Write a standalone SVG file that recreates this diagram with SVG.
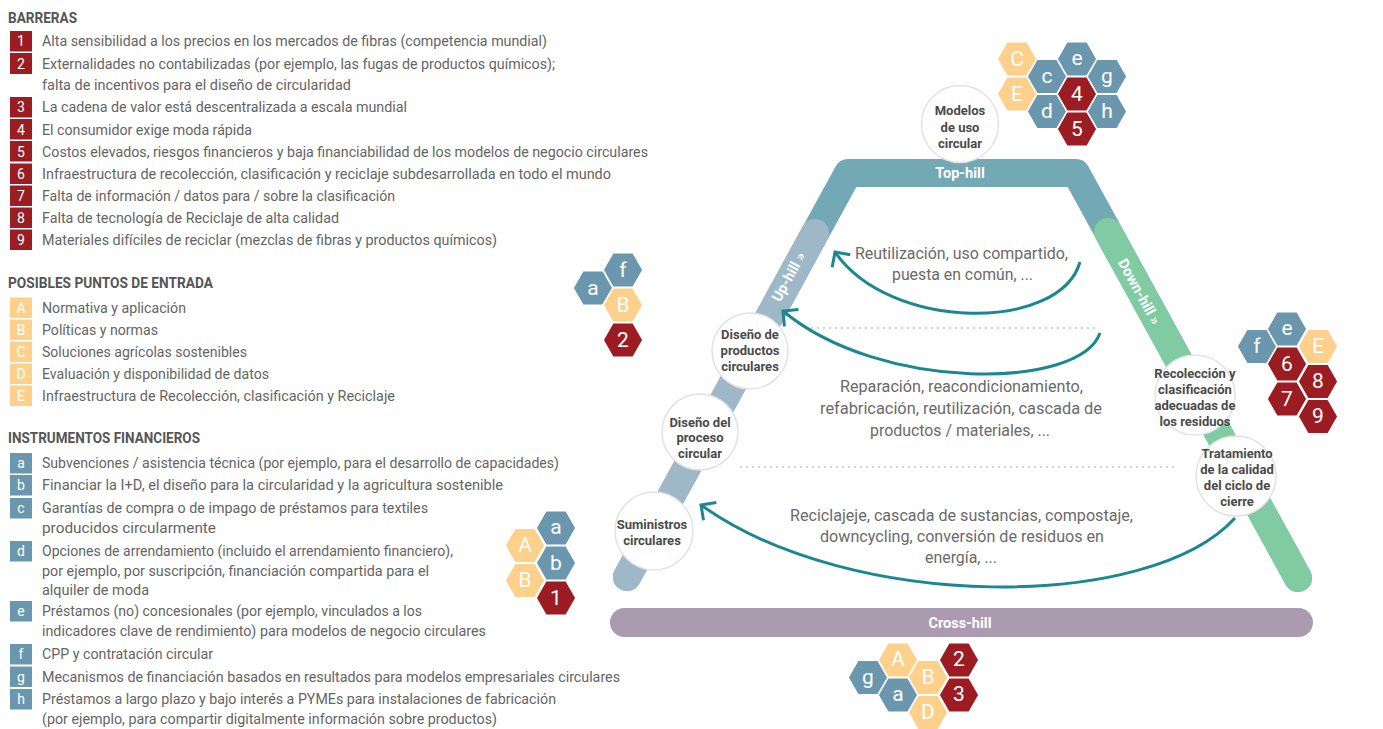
<svg xmlns="http://www.w3.org/2000/svg" xmlns:xlink="http://www.w3.org/1999/xlink" width="1383" height="729" viewBox="0 0 1383 729">
<style>
text{font-family:Roboto,"Liberation Sans",sans-serif}
.h{font-size:14px;font-weight:bold;fill:#555}
.t{font-size:14px;fill:#646464;dominant-baseline:central}
.bx{font-size:14px;fill:#fff;text-anchor:middle;dominant-baseline:central}
.r{fill:#9b1c22}.y{fill:#fdd08b}.b{fill:#6a97ae}
.hx{stroke:#fff;stroke-width:1.5}
.hl{font-size:21px;fill:#fff;text-anchor:middle;dominant-baseline:central}
.nd{fill:#fff;stroke:#e2e2e2;stroke-width:1.5}
.nt{font-size:13px;font-weight:bold;fill:#4a4a4a;text-anchor:middle;dominant-baseline:central}
.bl{font-size:14.5px;font-weight:bold;fill:#fff;text-anchor:middle;dominant-baseline:central}
.in{font-size:16px;fill:#6a6a6a;dominant-baseline:central}
.arr{fill:none;stroke:#1b8891;stroke-width:3}
.dot{stroke:#999;stroke-width:1.6;stroke-dasharray:0 6;stroke-linecap:round}
</style>
<defs>
<path id="hx" d="M-20,0 L-10,-17.32 L10,-17.32 L20,0 L10,17.32 L-10,17.32Z"/>
<marker id="ah" viewBox="0 0 16 24" refX="13" refY="12" markerWidth="16" markerHeight="24" markerUnits="userSpaceOnUse" orient="auto">
<path d="M2,1 L13,12 L2,23" fill="none" stroke="#1b8891" stroke-width="3" stroke-linejoin="miter"/>
</marker>
</defs>
<rect width="1383" height="729" fill="#fff"/>

<g id="legend-barreras">
<text class="h" x="8" y="23" textLength="69" lengthAdjust="spacingAndGlyphs">BARRERAS</text>
<rect class="r" x="10" y="31" width="22" height="20.5"/><text class="bx" x="21" y="41">1</text>
<text class="t" x="42" y="41" textLength="505" lengthAdjust="spacingAndGlyphs">Alta sensibilidad a los precios en los mercados de fibras (competencia mundial)</text>
<rect class="r" x="10" y="53" width="22" height="21"/><text class="bx" x="21" y="63.5">2</text>
<text class="t" x="42" y="64" textLength="513" lengthAdjust="spacingAndGlyphs">Externalidades no contabilizadas (por ejemplo, las fugas de productos químicos);</text>
<text class="t" x="42" y="85" textLength="309" lengthAdjust="spacingAndGlyphs">falta de incentivos para el diseño de circularidad</text>
<rect class="r" x="10" y="97" width="22" height="20.5"/><text class="bx" x="21" y="107">3</text>
<text class="t" x="42" y="107" textLength="365" lengthAdjust="spacingAndGlyphs">La cadena de valor está descentralizada a escala mundial</text>
<rect class="r" x="10" y="119" width="22" height="20.5"/><text class="bx" x="21" y="129.5">4</text>
<text class="t" x="42" y="130" textLength="210" lengthAdjust="spacingAndGlyphs">El consumidor exige moda rápida</text>
<rect class="r" x="10" y="141" width="22" height="20.5"/><text class="bx" x="21" y="151.5">5</text>
<text class="t" x="42" y="152" textLength="606" lengthAdjust="spacingAndGlyphs">Costos elevados, riesgos financieros y baja financiabilidad de los modelos de negocio circulares</text>
<rect class="r" x="10" y="163.5" width="22" height="20.5"/><text class="bx" x="21" y="174">6</text>
<text class="t" x="42" y="174" textLength="569" lengthAdjust="spacingAndGlyphs">Infraestructura de recolección, clasificación y reciclaje subdesarrollada en todo el mundo</text>
<rect class="r" x="10" y="185.5" width="22" height="20.5"/><text class="bx" x="21" y="196">7</text>
<text class="t" x="42" y="196" textLength="353" lengthAdjust="spacingAndGlyphs">Falta de información / datos para / sobre la clasificación</text>
<rect class="r" x="10" y="207.5" width="22" height="20.5"/><text class="bx" x="21" y="218">8</text>
<text class="t" x="42" y="218" textLength="297" lengthAdjust="spacingAndGlyphs">Falta de tecnología de Reciclaje de alta calidad</text>
<rect class="r" x="10" y="229.5" width="22" height="20.5"/><text class="bx" x="21" y="240">9</text>
<text class="t" x="42" y="240" textLength="455" lengthAdjust="spacingAndGlyphs">Materiales difíciles de reciclar (mezclas de fibras y productos químicos)</text>
</g>

<g id="legend-entrada">
<text class="h" x="8" y="288" textLength="205" lengthAdjust="spacingAndGlyphs">POSIBLES PUNTOS DE ENTRADA</text>
<rect class="y" x="10" y="297.5" width="22" height="20.5"/><text class="bx" x="21" y="308">A</text>
<text class="t" x="42" y="308" textLength="144" lengthAdjust="spacingAndGlyphs">Normativa y aplicación</text>
<rect class="y" x="10" y="319.5" width="22" height="20.5"/><text class="bx" x="21" y="330">B</text>
<text class="t" x="42" y="330" textLength="116" lengthAdjust="spacingAndGlyphs">Políticas y normas</text>
<rect class="y" x="10" y="341.5" width="22" height="20.5"/><text class="bx" x="21" y="352">C</text>
<text class="t" x="42" y="352" textLength="205" lengthAdjust="spacingAndGlyphs">Soluciones agrícolas sostenibles</text>
<rect class="y" x="10" y="363.5" width="22" height="20.5"/><text class="bx" x="21" y="374">D</text>
<text class="t" x="42" y="374" textLength="227" lengthAdjust="spacingAndGlyphs">Evaluación y disponibilidad de datos</text>
<rect class="y" x="10" y="385.5" width="22" height="20.5"/><text class="bx" x="21" y="396">E</text>
<text class="t" x="42" y="396" textLength="353" lengthAdjust="spacingAndGlyphs">Infraestructura de Recolección, clasificación y Reciclaje</text>
</g>

<g id="legend-instrumentos">
<text class="h" x="8" y="443" textLength="192" lengthAdjust="spacingAndGlyphs">INSTRUMENTOS FINANCIEROS</text>
<rect class="b" x="10" y="453" width="22" height="20.5"/><text class="bx" x="21" y="462.5">a</text>
<text class="t" x="42" y="463" textLength="517" lengthAdjust="spacingAndGlyphs">Subvenciones / asistencia técnica (por ejemplo, para el desarrollo de capacidades)</text>
<rect class="b" x="10" y="475" width="22" height="20.5"/><text class="bx" x="21" y="485">b</text>
<text class="t" x="42" y="485" textLength="461" lengthAdjust="spacingAndGlyphs">Financiar la I+D, el diseño para la circularidad y la agricultura sostenible</text>
<rect class="b" x="10" y="498" width="22" height="20.5"/><text class="bx" x="21" y="507.5">c</text>
<text class="t" x="42" y="508" textLength="386" lengthAdjust="spacingAndGlyphs">Garantías de compra o de impago de préstamos para textiles</text>
<text class="t" x="42" y="528" textLength="174" lengthAdjust="spacingAndGlyphs">producidos circularmente</text>
<rect class="b" x="10" y="541" width="22" height="20.5"/><text class="bx" x="21" y="550.5">d</text>
<text class="t" x="42" y="551" textLength="411" lengthAdjust="spacingAndGlyphs">Opciones de arrendamiento (incluido el arrendamiento financiero),</text>
<text class="t" x="42" y="571" textLength="387" lengthAdjust="spacingAndGlyphs">por ejemplo, por suscripción, financiación compartida para el</text>
<text class="t" x="42" y="590" textLength="107" lengthAdjust="spacingAndGlyphs">alquiler de moda</text>
<rect class="b" x="10" y="601" width="22" height="20.5"/><text class="bx" x="21" y="610.5">e</text>
<text class="t" x="42" y="611" textLength="380" lengthAdjust="spacingAndGlyphs">Préstamos (no) concesionales (por ejemplo, vinculados a los</text>
<text class="t" x="42" y="631" textLength="444" lengthAdjust="spacingAndGlyphs">indicadores clave de rendimiento) para modelos de negocio circulares</text>
<rect class="b" x="10" y="644" width="22" height="20.5"/><text class="bx" x="21" y="654">f</text>
<text class="t" x="42" y="654" textLength="171" lengthAdjust="spacingAndGlyphs">CPP y contratación circular</text>
<rect class="b" x="10" y="666.5" width="22" height="20.5"/><text class="bx" x="21" y="676.5">g</text>
<text class="t" x="42" y="677" textLength="578" lengthAdjust="spacingAndGlyphs">Mecanismos de financiación basados en resultados para modelos empresariales circulares</text>
<rect class="b" x="10" y="689" width="22" height="20.5"/><text class="bx" x="21" y="699">h</text>
<text class="t" x="42" y="699" textLength="514" lengthAdjust="spacingAndGlyphs">Préstamos a largo plazo y bajo interés a PYMEs para instalaciones de fabricación</text>
<text class="t" x="42" y="719" textLength="455" lengthAdjust="spacingAndGlyphs">(por ejemplo, para compartir digitalmente información sobre productos)</text>
</g>

<g id="bands">
<path d="M627,577 L848,173 L1076,173 L1298,578" fill="none" stroke="#72a9b5" stroke-width="28" stroke-linejoin="round" stroke-linecap="round"/>
<path d="M815,233 L627,577" fill="none" stroke="#9fb8c8" stroke-width="28" stroke-linecap="round"/>
<path d="M1108,232 L1298,578" fill="none" stroke="#80cba2" stroke-width="28" stroke-linecap="round"/>
<rect x="610" y="608" width="703" height="29" rx="14.5" fill="#ab9bb0"/>
<text class="bl" x="960" y="173">Top-hill</text>
<text class="bl" x="960" y="623">Cross-hill</text>
<text class="bl" transform="translate(789,277) rotate(-61.3)">Up-hill »</text>
<text class="bl" transform="translate(1139,292) rotate(61.2)">Down-hill »</text>
</g>

<g id="connectors">
<line class="dot" x1="812" y1="328" x2="1097" y2="328"/>
<line class="dot" x1="741" y1="467" x2="1175" y2="467"/>
<path class="arr" d="M1080,262 C1060,332 890,332 835,252" marker-end="url(#ah)"/>
<path class="arr" d="M1100,333 C1080,390 880,392 783,311" marker-end="url(#ah)"/>
<path class="arr" d="M1235,518 C1150,612 850,612 701,505" marker-end="url(#ah)"/>
</g>

<g id="flow-labels">
<text class="in" x="855" y="253" textLength="213" lengthAdjust="spacingAndGlyphs">Reutilización, uso compartido,</text>
<text class="in" x="892" y="274" textLength="141" lengthAdjust="spacingAndGlyphs">puesta en común, ...</text>
<text class="in" x="840" y="386" textLength="243" lengthAdjust="spacingAndGlyphs">Reparación, reacondicionamiento,</text>
<text class="in" x="820" y="408" textLength="282" lengthAdjust="spacingAndGlyphs">refabricación, reutilización, cascada de</text>
<text class="in" x="870" y="430" textLength="180" lengthAdjust="spacingAndGlyphs">productos / materiales, ...</text>
<text class="in" x="790" y="515" textLength="343" lengthAdjust="spacingAndGlyphs">Reciclajeje, cascada de sustancias, compostaje,</text>
<text class="in" x="820" y="536" textLength="284" lengthAdjust="spacingAndGlyphs">downcycling, conversión de residuos en</text>
<text class="in" x="925" y="557" textLength="72" lengthAdjust="spacingAndGlyphs">energía, ...</text>
</g>

<g id="node-modelos"><circle class="nd" cx="960" cy="124" r="38.5"/>
<text class="nt" x="960" y="110">Modelos</text><text class="nt" x="960" y="127">de uso</text><text class="nt" x="960" y="143">circular</text></g>
<g id="node-diseno-productos"><circle class="nd" cx="750" cy="351" r="38"/>
<text class="nt" x="750" y="334">Diseño de</text><text class="nt" x="750" y="350">productos</text><text class="nt" x="750" y="366">circulares</text></g>
<g id="node-diseno-proceso"><circle class="nd" cx="700" cy="432" r="38"/>
<text class="nt" x="700" y="422">Diseño del</text><text class="nt" x="700" y="437">proceso</text><text class="nt" x="700" y="453">circular</text></g>
<g id="node-suministros"><circle class="nd" cx="654" cy="531" r="39"/>
<text class="nt" x="652" y="524">Suministros</text><text class="nt" x="652" y="540">circulares</text></g>
<g id="node-recoleccion"><circle class="nd" cx="1195" cy="395" r="40"/>
<text class="nt" x="1195" y="373">Recolección y</text><text class="nt" x="1195" y="389">clasificación</text><text class="nt" x="1195" y="405">adecuadas de</text><text class="nt" x="1195" y="421">los residuos</text></g>
<g id="node-tratamiento"><circle class="nd" cx="1236" cy="476" r="40"/>
<text class="nt" x="1237" y="453">Tratamiento</text><text class="nt" x="1237" y="469">de la calidad</text><text class="nt" x="1237" y="485">del ciclo de</text><text class="nt" x="1237" y="501">cierre</text></g>

<g id="hex-top">
<use href="#hx" class="hx y" x="1017" y="59"/><text class="hl" x="1017" y="59">C</text>
<use href="#hx" class="hx y" x="1017" y="94"/><text class="hl" x="1017" y="94">E</text>
<use href="#hx" class="hx b" x="1047" y="76.5"/><text class="hl" x="1047" y="76">c</text>
<use href="#hx" class="hx b" x="1047" y="111.5"/><text class="hl" x="1047" y="111">d</text>
<use href="#hx" class="hx b" x="1077" y="59"/><text class="hl" x="1077" y="58">e</text>
<use href="#hx" class="hx r" x="1077" y="94"/><text class="hl" x="1077" y="94">4</text>
<use href="#hx" class="hx r" x="1077" y="129"/><text class="hl" x="1077" y="129">5</text>
<use href="#hx" class="hx b" x="1107" y="76.5"/><text class="hl" x="1107" y="76">g</text>
<use href="#hx" class="hx b" x="1107" y="111.5"/><text class="hl" x="1107" y="111">h</text>
</g>
<g id="hex-uphill">
<use href="#hx" class="hx b" x="623" y="270"/><text class="hl" x="623" y="270">f</text>
<use href="#hx" class="hx b" x="593" y="288"/><text class="hl" x="593" y="288">a</text>
<use href="#hx" class="hx y" x="623" y="305"/><text class="hl" x="623" y="305">B</text>
<use href="#hx" class="hx r" x="623" y="340"/><text class="hl" x="623" y="340">2</text>
</g>
<g id="hex-downhill">
<use href="#hx" class="hx b" x="1257" y="346.5"/><text class="hl" x="1257" y="346">f</text>
<use href="#hx" class="hx b" x="1287" y="329"/><text class="hl" x="1287" y="328">e</text>
<use href="#hx" class="hx y" x="1318" y="346.5"/><text class="hl" x="1318" y="346">E</text>
<use href="#hx" class="hx r" x="1287" y="364"/><text class="hl" x="1287" y="364">6</text>
<use href="#hx" class="hx r" x="1318" y="381.5"/><text class="hl" x="1318" y="381">8</text>
<use href="#hx" class="hx r" x="1287" y="399"/><text class="hl" x="1287" y="399">7</text>
<use href="#hx" class="hx r" x="1318" y="416.5"/><text class="hl" x="1318" y="416">9</text>
</g>
<g id="hex-supply">
<use href="#hx" class="hx b" x="556" y="528"/><text class="hl" x="556" y="527">a</text>
<use href="#hx" class="hx y" x="525" y="545.5"/><text class="hl" x="525" y="545">A</text>
<use href="#hx" class="hx b" x="556" y="563"/><text class="hl" x="556" y="563">b</text>
<use href="#hx" class="hx y" x="525" y="580.5"/><text class="hl" x="525" y="580">B</text>
<use href="#hx" class="hx r" x="556" y="598"/><text class="hl" x="556" y="598">1</text>
</g>
<g id="hex-crosshill">
<use href="#hx" class="hx b" x="868" y="677.5"/><text class="hl" x="868" y="677">g</text>
<use href="#hx" class="hx y" x="898" y="660"/><text class="hl" x="898" y="659">A</text>
<use href="#hx" class="hx b" x="898" y="695"/><text class="hl" x="898" y="694">a</text>
<use href="#hx" class="hx y" x="928" y="677.5"/><text class="hl" x="928" y="677">B</text>
<use href="#hx" class="hx y" x="928" y="712.5"/><text class="hl" x="928" y="712">D</text>
<use href="#hx" class="hx r" x="959" y="660"/><text class="hl" x="959" y="659">2</text>
<use href="#hx" class="hx r" x="959" y="695"/><text class="hl" x="959" y="694">3</text>
</g>
</svg>
